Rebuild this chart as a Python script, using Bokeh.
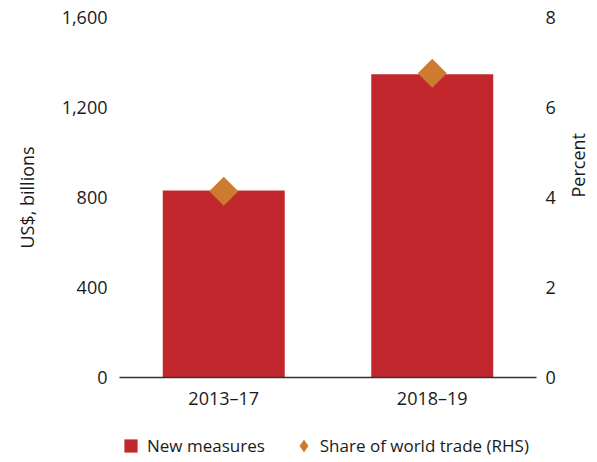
import math
from bokeh.plotting import figure
from bokeh.layouts import column
from bokeh.models import (ColumnDataSource, FactorRange, Range1d, LinearAxis, FixedTicker,
                          NumeralTickFormatter, Legend, LegendItem)
from bokeh.embed import file_html
from bokeh.resources import INLINE

# ---- data ----
categories = ["2013–17", "2018–19"]
new_measures = [831, 1348]          # US$ billions (LHS)
share_world_trade = [4.14, 6.76]    # percent (RHS)
left_ticks = [0, 400, 800, 1200, 1600]
right_ticks = [0, 2, 4, 6, 8]
legend_labels = ["New measures", "Share of world trade (RHS)"]

FONT = "Open Sans"
RED = "#C1272D"
ORANGE = "#CD7B2E"
TEXT = "#1a1a1a"

src = ColumnDataSource(dict(cat=categories, val=new_measures, share=share_world_trade))

p = figure(x_range=FactorRange(*categories, range_padding=0),
           y_range=Range1d(left_ticks[0], left_ticks[-1]),
           frame_width=417, frame_height=360,
           min_border_left=119, min_border_right=61, min_border_top=17, min_border_bottom=45,
           output_backend="svg", toolbar_location=None, outline_line_color=None)
p.extra_y_ranges = {"pct": Range1d(right_ticks[0], right_ticks[-1])}

p.xgrid.grid_line_color = None
p.ygrid.grid_line_color = None

# left axis
ya = p.yaxis[0]
ya.ticker = FixedTicker(ticks=left_ticks)
ya.formatter = NumeralTickFormatter(format="0,0")
ya.axis_line_color = None
ya.major_tick_line_color = None
ya.minor_tick_line_color = None
ya.major_tick_out = 0
ya.minor_tick_out = 0
ya.major_label_standoff = 12
ya.major_label_text_font = FONT
ya.major_label_text_font_size = "18px"
ya.major_label_text_color = TEXT
ya.axis_label = "US$, billions"
ya.axis_label_text_font = FONT
ya.axis_label_text_font_size = "18px"
ya.axis_label_text_font_style = "normal"
ya.axis_label_text_color = TEXT
ya.axis_label_standoff = 20

# right axis
ra = LinearAxis(y_range_name="pct", ticker=FixedTicker(ticks=right_ticks), axis_label="Percent")
ra.axis_line_color = None
ra.major_tick_line_color = None
ra.minor_tick_line_color = None
ra.major_tick_out = 0
ra.minor_tick_out = 0
ra.major_label_standoff = 9
ra.major_label_text_font = FONT
ra.major_label_text_font_size = "18px"
ra.major_label_text_color = TEXT
ra.axis_label_text_font = FONT
ra.axis_label_text_font_size = "18px"
ra.axis_label_text_font_style = "normal"
ra.axis_label_text_color = TEXT
ra.axis_label_standoff = 19
ra.axis_label_orientation = math.pi / 2
p.add_layout(ra, "right")

# x axis
xa = p.xaxis[0]
xa.axis_line_color = "#333333"
xa.axis_line_width = 1.5
xa.major_tick_line_color = None
xa.minor_tick_line_color = None
xa.major_tick_out = 0
xa.minor_tick_out = 0
xa.major_label_standoff = 8
xa.major_label_text_font = FONT
xa.major_label_text_font_size = "18px"
xa.major_label_text_color = TEXT

# marks
p.vbar(x="cat", top="val", width=0.585, source=src, fill_color=RED, line_color=None)
p.scatter(x="cat", y="share", source=src, y_range_name="pct", marker="square",
          angle=math.pi / 4, size=20.5, fill_color=ORANGE, line_color=None)

# ---- legend strip: a frame-only figure below the chart ----
lg = figure(x_range=FactorRange(*categories, range_padding=0),
            y_range=Range1d(left_ticks[0], left_ticks[-1]),
            frame_width=597, frame_height=40,
            min_border_left=0, min_border_right=0, min_border_top=0, min_border_bottom=0,
            x_axis_location=None, y_axis_location=None,
            output_backend="svg", toolbar_location=None, outline_line_color=None)
lg.xgrid.grid_line_color = None
lg.ygrid.grid_line_color = None

# zero-size markers that only provide the legend swatches
sq = lg.scatter(x="cat", y="val", source=src, marker="square", size=0,
                fill_color=RED, line_color=None)
dm = lg.scatter(x="cat", y="val", source=src, marker="diamond", size=0,
                fill_color=ORANGE, line_color=None)

legend = Legend(items=[LegendItem(label=legend_labels[0], renderers=[sq]),
                       LegendItem(label=legend_labels[1], renderers=[dm])],
                orientation="horizontal", location=(114, 0),
                glyph_width=33, glyph_height=33, label_standoff=-3, spacing=22,
                padding=0, margin=0, border_line_color=None, background_fill_alpha=0,
                label_text_font=FONT, label_text_font_size="17px", label_text_color=TEXT)
lg.add_layout(legend, "center")

layout = column(p, lg, spacing=0)
open("out.html", "w").write(file_html(layout, INLINE))
